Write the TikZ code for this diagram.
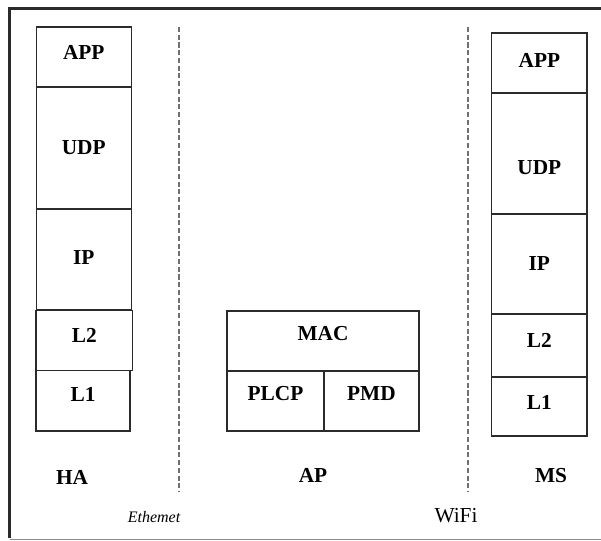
\documentclass[tikz,border=0pt]{standalone}
\usepackage{fontspec}
\setmainfont{Liberation Serif}
\usetikzlibrary{positioning}
\definecolor{LineDark}{HTML}{2B2B2B}
\definecolor{DashGray}{HTML}{707070}
\definecolor{FrameGray}{HTML}{8A8A8A}

\begin{document}
\begin{tikzpicture}[
  x=0.75pt, y=-0.75pt,
  layer/.style={draw=LineDark, line width=1.1pt, inner sep=0pt, minimum width=71.25pt,
    font=\fontsize{16}{18}\selectfont\bfseries, text height=10.6pt, text depth=6pt},
  host/.style={inner sep=0pt, font=\fontsize{16}{18}\selectfont\bfseries, text height=10.6pt, text depth=0pt},
  link/.style={inner sep=0pt, anchor=base},
  sep/.style={DashGray, line width=1.5pt, dash pattern=on 3.8pt off 2pt}
]
\useasboundingbox (0,0) rectangle (601,541);
% frame
\draw[line width=2.4pt, LineDark] (9.5,538) -- (9.5,8.5) -- (601,8.5);
\draw[line width=1.2pt, FrameGray] (9.5,539.5) -- (601,539.5);

% HA stack
\node[layer, minimum height=45pt, text depth=7.5pt] (haapp) at (83.75,57) {APP};
\node[layer, minimum height=91.5pt, text depth=1.5pt] (haudp) at (83.75,148) {UDP};
\node[layer, minimum height=75.4pt, text depth=3pt] (haip) at (83.75,259.25) {IP};
\node[layer, minimum height=45pt, minimum width=72.4pt, text depth=8pt] (hal2) at (84.25,340.5) {L2};
\node[layer, minimum height=45.4pt, minimum width=70.5pt, text depth=9pt] (hal1) at (83,400.75) {L1};

% AP stack
\node[layer, minimum height=45pt, minimum width=144pt, text depth=12pt] (apmac) at (323,341) {MAC};
\node[layer, minimum height=45pt, minimum width=72.75pt, text depth=12pt] (applcp) at (275.5,401) {PLCP};
\node[layer, minimum height=45pt, minimum width=71.25pt, text depth=12pt] (appmd) at (371.5,401) {PMD};

% MS stack
\node[layer, minimum height=45pt, minimum width=71.5pt, text depth=4.5pt] (msapp) at (539.35,63) {APP};
\node[layer, minimum height=90.75pt, minimum width=71.5pt, text height=30.9pt, text depth=0pt] (msudp) at (539.35,153.5) {UDP};
\node[layer, minimum height=75pt, minimum width=71.5pt, text depth=1.5pt] (msip) at (539.35,264) {IP};
\node[layer, minimum height=47.25pt, minimum width=71.5pt, text depth=8pt] (msl2) at (539.35,345.5) {L2};
\node[layer, minimum height=44.25pt, minimum width=71.5pt, text depth=6.75pt] (msl1) at (539.35,406.5) {L1};

% hosts
\node[host] (ha) at (72,477) {HA};
\node[host] (ap) at (313,475) {AP};
\node[host] (ms) at (551,475) {MS};

% separators
\draw[sep] (179,27) -- (179,492);
\draw[sep] (467.5,27) -- (467.5,492);
\node[link, font=\fontsize{12}{14}\selectfont\itshape] (eth) at (154,523) {Ethemet};
\node[link, font=\fontsize{16}{18}\selectfont] (wifi) at (456,523) {WiFi};
\end{tikzpicture}
\end{document}
